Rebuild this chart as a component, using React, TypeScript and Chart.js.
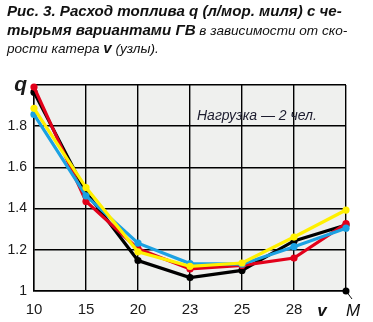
import React, { useEffect, useRef } from "react";
import { Chart, registerables } from "chart.js";

Chart.register(...registerables);

const categories: string[] = ["10", "15", "20", "23", "25", "28", ""];
const blackSeries: number[] = [1.965, 1.48, 1.148, 1.065, 1.1, 1.243, 1.32];
const redSeries: number[] = [1.99, 1.435, 1.205, 1.107, 1.124, 1.16, 1.327];
const blueSeries: number[] = [1.857, 1.462, 1.232, 1.133, 1.13, 1.215, 1.305];
const yellowSeries: number[] = [1.887, 1.502, 1.19, 1.12, 1.136, 1.262, 1.393];
const yMin = 1;
const yMax = 2;
const yStep = 0.2;
const yAxisTitle = "q";
const xAxisTitle = "v";
const markLabel = "M";
const noteText = "Нагрузка — 2 чел.";

const FONT = "'Liberation Sans', Arial, Helvetica, sans-serif";

const decorPlugin = {
  id: "decor",
  beforeDraw(chart: any) {
    const { ctx, chartArea } = chart;
    ctx.save();
    ctx.fillStyle = "#eff0ee";
    ctx.fillRect(chartArea.left, chartArea.top, chartArea.right - chartArea.left, chartArea.bottom - chartArea.top);
    ctx.restore();
  },
  afterDraw(chart: any) {
    const { ctx } = chart;
    const xs = chart.scales.x;
    const ys = chart.scales.y;
    ctx.save();
    ctx.fillStyle = "#1c1c2e";
    ctx.font = `italic 14px ${FONT}`;
    ctx.textBaseline = "alphabetic";
    ctx.textAlign = "left";
    ctx.fillText(noteText, xs.getPixelForValue(3) + 7, ys.getPixelForValue(1.85) + 4);
    ctx.fillStyle = "#111";
    ctx.font = `italic bold 17px ${FONT}`;
    ctx.textAlign = "center";
    ctx.textBaseline = "middle";
    const xEnd = xs.getPixelForValue(categories.length - 1);
    const y0 = ys.getPixelForValue(yMin);
    ctx.fillText(xAxisTitle, (xs.getPixelForValue(5) + xEnd) / 2 + 2, y0 + 20);
    ctx.strokeStyle = "#111";
    ctx.lineWidth = 1;
    ctx.beginPath();
    ctx.moveTo(xEnd, y0);
    ctx.lineTo(xEnd + 6, y0 + 8);
    ctx.stroke();
    ctx.beginPath();
    ctx.arc(xEnd, y0, 3.5, 0, Math.PI * 2);
    ctx.fillStyle = "#000";
    ctx.fill();
    ctx.fillStyle = "#111";
    ctx.font = `italic 17px ${FONT}`;
    ctx.fillText(markLabel, xEnd + 7, y0 + 20);
    ctx.restore();
  },
};

function mkDataset(data: number[], color: string) {
  return {
    data,
    borderColor: color,
    backgroundColor: color,
    borderWidth: 3.2,
    pointRadius: 3.6,
    pointBorderWidth: 0,
    pointBackgroundColor: color,
    tension: 0,
    clip: false as any,
  };
}

export default function App() {
  const ref = useRef<HTMLCanvasElement | null>(null);
  useEffect(() => {
    if (!ref.current) return;
    const chart = new Chart(ref.current, {
      type: "line",
      data: {
        labels: categories,
        datasets: [
          mkDataset(yellowSeries, "#fff000"),
          mkDataset(blueSeries, "#1ba1e2"),
          mkDataset(redSeries, "#e2001a"),
          mkDataset(blackSeries, "#000000"),
        ],
      },
      options: {
        responsive: false,
        animation: false,
        devicePixelRatio: 1,
        layout: { padding: { top: 85, right: 27, left: 0, bottom: 0 } },
        plugins: { legend: { display: false }, tooltip: { enabled: false }, title: { display: false } },
        scales: {
          x: {
            type: "category",
            offset: false,
            grid: { color: "#000", lineWidth: 1.4, drawTicks: false },
            border: { color: "#000", width: 1.4 },
            ticks: {
              color: "#1a1a1a",
              font: { family: FONT, size: 15 },
              padding: 10,
              autoSkip: false,
              maxRotation: 0,
            },
            afterFit: (s: any) => {
              s.height = 31;
            },
          },
          y: {
            min: yMin,
            max: yMax,
            grid: { color: "#000", lineWidth: 1.4, drawTicks: false },
            border: { color: "#000", width: 1.4 },
            ticks: {
              stepSize: yStep,
              color: "#1a1a1a",
              padding: 7,
              font: (c: any) =>
                c.tick && Math.abs(c.tick.value - yMax) < 1e-6
                  ? { family: FONT, size: 21, style: "italic", weight: "bold" }
                  : { family: FONT, size: 14 },
              callback: (v: any) => {
                const n = Number(v);
                if (Math.abs(n - yMax) < 1e-6) return yAxisTitle;
                return Math.abs(n - Math.round(n)) < 1e-6 ? String(Math.round(n)) : n.toFixed(1);
              },
            },
            afterFit: (s: any) => {
              s.width = 34;
            },
          },
        },
      },
      plugins: [decorPlugin],
    });
    return () => chart.destroy();
  }, []);

  const bold: React.CSSProperties = { fontWeight: "bold", fontSize: 15.1 };
  return (
    <div style={{ position: "absolute", left: 0, top: 0, width: 373, height: 322, background: "#fff", overflow: "hidden" }}>
      <canvas ref={ref} width={373} height={322} style={{ position: "absolute", left: 0, top: 0, width: 373, height: 322 }} />
      <div
        style={{
          position: "absolute",
          left: 7,
          top: 2,
          fontFamily: FONT,
          fontSize: 13.6,
          lineHeight: "17.5px",
          color: "#111",
          whiteSpace: "nowrap",
          fontStyle: "italic",
        }}
      >
        <span style={bold}>Рис. 3. Расход топлива q (л/мор. миля) с че-</span>
        <br />
        <span style={bold}>тырьмя вариантами ГВ</span> в зависимости от ско-
        <br />
        рости катера <span style={bold}>v</span> (узлы).
      </div>
    </div>
  );
}
